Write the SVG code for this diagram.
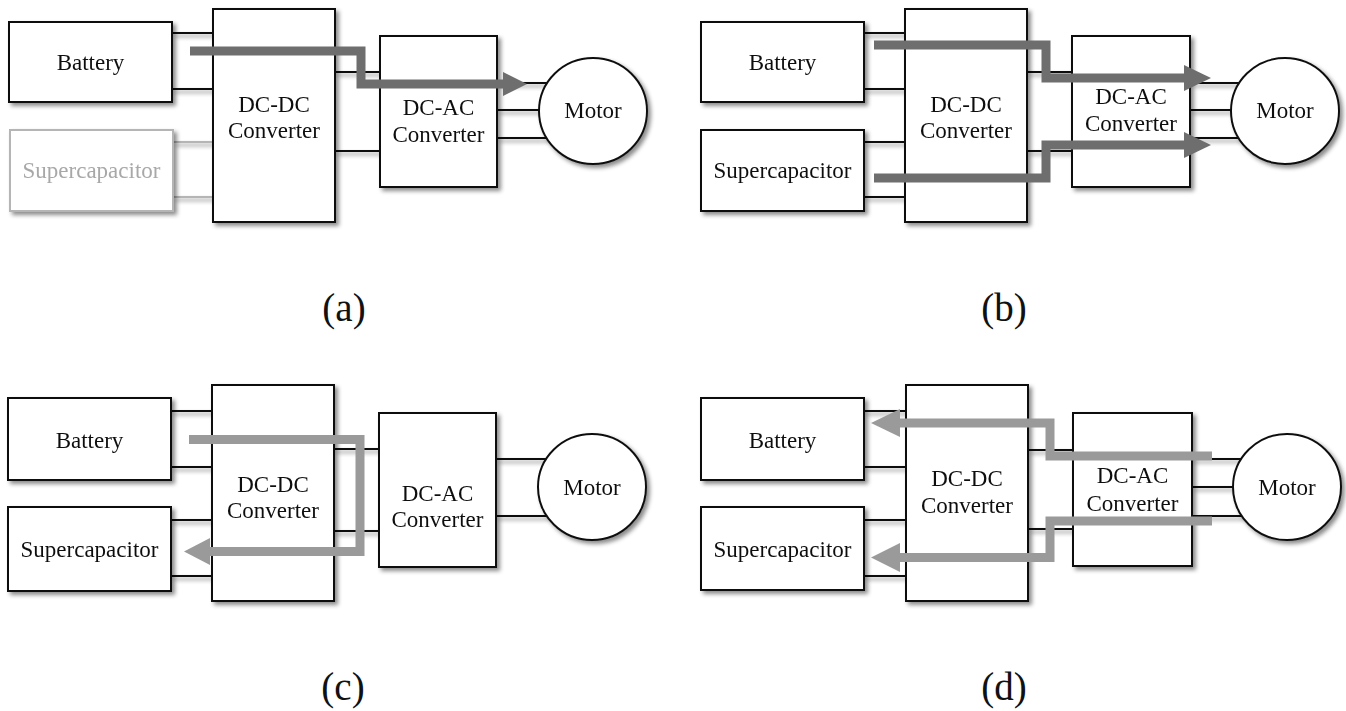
<svg xmlns="http://www.w3.org/2000/svg" width="1346" height="711" viewBox="0 0 1346 711">
<defs>
<filter id="sh" x="-20%" y="-20%" width="140%" height="140%">
<feDropShadow dx="3" dy="3" stdDeviation="2" flood-color="#000" flood-opacity="0.45"/>
</filter>
<style>
.box{fill:#fff;stroke:#111;stroke-width:2}
.gbox{fill:#fff;stroke:#b5b5b5;stroke-width:2}
.ln{stroke:#111;stroke-width:2;fill:none}
.gln{stroke:#b5b5b5;stroke-width:2;fill:none}
.t{font-family:"Liberation Serif","Times New Roman",serif;font-size:23px;fill:#111;text-anchor:middle}
.gt{fill:#a8a8a8}
.lbl{font-family:"Liberation Serif","Times New Roman",serif;font-size:39px;fill:#111;text-anchor:middle}
.fd{fill:none;stroke:#6e6e6e;stroke-width:9;stroke-linejoin:miter}
.fdh{fill:#6e6e6e}
.fl{fill:none;stroke:#9a9a9a;stroke-width:9;stroke-linejoin:miter}
.flh{fill:#9a9a9a}
</style>
</defs>
<rect width="1346" height="711" fill="#fff"/>

<!-- Panel (a) -->
<g id="a-connectors" filter="url(#sh)">
<path class="ln" d="M172 33H213M172 89H213M335 72H380M335 151H380M497 83H548M497 110H540M497 138H548"/>
<path class="gln" d="M173 142H213M173 197H213"/>
</g>
<g id="a-battery" filter="url(#sh)"><rect class="box" x="9" y="22" width="163" height="80"/><text class="t" x="90.5" y="70">Battery</text></g>
<g id="a-supercap" filter="url(#sh)"><rect class="gbox" x="10" y="130" width="163" height="81"/><text class="t gt" x="91.5" y="178">Supercapacitor</text></g>
<g id="a-dcdc" filter="url(#sh)"><rect class="box" x="213" y="9" width="122" height="213"/><text class="t" x="274" y="112">DC-DC</text><text class="t" x="274" y="138">Converter</text></g>
<g id="a-dcac" filter="url(#sh)"><rect class="box" x="380" y="36" width="117" height="151"/><text class="t" x="438.5" y="115">DC-AC</text><text class="t" x="438.5" y="142">Converter</text></g>
<g id="a-motor" filter="url(#sh)"><ellipse class="box" cx="593" cy="111" rx="54" ry="53"/><text class="t" x="593" y="118">Motor</text></g>
<g id="a-flow">
<path class="fd" d="M190 51H361V84H504"/>
<polygon class="fdh" points="503,72 527,84 503,96"/>
</g>
<text class="lbl" x="344" y="321">(a)</text>

<!-- Panel (b) -->
<g id="b-connectors" filter="url(#sh)">
<path class="ln" d="M864 33H905M864 89H905M864 142H905M864 197H905M1027 72H1072M1027 151H1072M1190 83H1240M1190 110H1232M1190 138H1240"/>
</g>
<g id="b-battery" filter="url(#sh)"><rect class="box" x="701" y="22" width="163" height="80"/><text class="t" x="782.5" y="70">Battery</text></g>
<g id="b-supercap" filter="url(#sh)"><rect class="box" x="701" y="130" width="163" height="81"/><text class="t" x="782.5" y="178">Supercapacitor</text></g>
<g id="b-dcdc" filter="url(#sh)"><rect class="box" x="905" y="9" width="122" height="213"/><text class="t" x="966" y="112">DC-DC</text><text class="t" x="966" y="138">Converter</text></g>
<g id="b-dcac" filter="url(#sh)"><rect class="box" x="1072" y="36" width="118" height="151"/><text class="t" x="1131" y="104">DC-AC</text><text class="t" x="1131" y="131">Converter</text></g>
<g id="b-motor" filter="url(#sh)"><ellipse class="box" cx="1285" cy="111" rx="54" ry="53"/><text class="t" x="1285" y="118">Motor</text></g>
<g id="b-flow">
<path class="fd" d="M874 45H1046V78H1185"/>
<polygon class="fdh" points="1184,65 1211,78 1184,91"/>
<path class="fd" d="M874 178H1046V145H1185"/>
<polygon class="fdh" points="1184,132 1211,145 1184,158"/>
</g>
<text class="lbl" x="1004" y="321">(b)</text>

<!-- Panel (c) -->
<g id="c-connectors" filter="url(#sh)">
<path class="ln" d="M171 411H212M171 467H212M171 520H212M171 576H212M334 449H379M334 531H379M496 459H547M496 516H547"/>
</g>
<g id="c-battery" filter="url(#sh)"><rect class="box" x="8" y="398" width="163" height="82"/><text class="t" x="89.5" y="448">Battery</text></g>
<g id="c-supercap" filter="url(#sh)"><rect class="box" x="8" y="507" width="163" height="84"/><text class="t" x="89.5" y="557">Supercapacitor</text></g>
<g id="c-dcdc" filter="url(#sh)"><rect class="box" x="212" y="385" width="122" height="216"/><text class="t" x="273" y="492">DC-DC</text><text class="t" x="273" y="518">Converter</text></g>
<g id="c-dcac" filter="url(#sh)"><rect class="box" x="379" y="413" width="117" height="154"/><text class="t" x="437.5" y="501">DC-AC</text><text class="t" x="437.5" y="527">Converter</text></g>
<g id="c-motor" filter="url(#sh)"><ellipse class="box" cx="592" cy="487" rx="54" ry="53"/><text class="t" x="592" y="495">Motor</text></g>
<g id="c-flow">
<path class="fl" d="M189 439.5H360V551.5H209"/>
<polygon class="flh" points="210,538 184,551.5 210,565"/>
</g>
<text class="lbl" x="343" y="700">(c)</text>

<!-- Panel (d) -->
<g id="d-connectors" filter="url(#sh)">
<path class="ln" d="M864 411H906M864 467H906M864 520H906M864 576H906M1028 450H1073M1028 529H1073M1192 459H1242M1192 487H1234M1192 516H1242"/>
</g>
<g id="d-battery" filter="url(#sh)"><rect class="box" x="701" y="398" width="163" height="82"/><text class="t" x="782.5" y="448">Battery</text></g>
<g id="d-supercap" filter="url(#sh)"><rect class="box" x="701" y="507" width="163" height="83"/><text class="t" x="782.5" y="557">Supercapacitor</text></g>
<g id="d-dcdc" filter="url(#sh)"><rect class="box" x="906" y="385" width="122" height="216"/><text class="t" x="967" y="486">DC-DC</text><text class="t" x="967" y="513">Converter</text></g>
<g id="d-dcac" filter="url(#sh)"><rect class="box" x="1073" y="413" width="119" height="153"/><text class="t" x="1132.5" y="483">DC-AC</text><text class="t" x="1132.5" y="511">Converter</text></g>
<g id="d-motor" filter="url(#sh)"><ellipse class="box" cx="1287" cy="487" rx="54" ry="53"/><text class="t" x="1287" y="495">Motor</text></g>
<g id="d-flow">
<path class="fl" d="M1212 456H1050V423H899"/>
<polygon class="flh" points="900,409 871,423 900,437"/>
<path class="fl" d="M1212 521H1050V557.5H899"/>
<polygon class="flh" points="900,543 871,557.5 900,572"/>
</g>
<text class="lbl" x="1004" y="700">(d)</text>
</svg>
